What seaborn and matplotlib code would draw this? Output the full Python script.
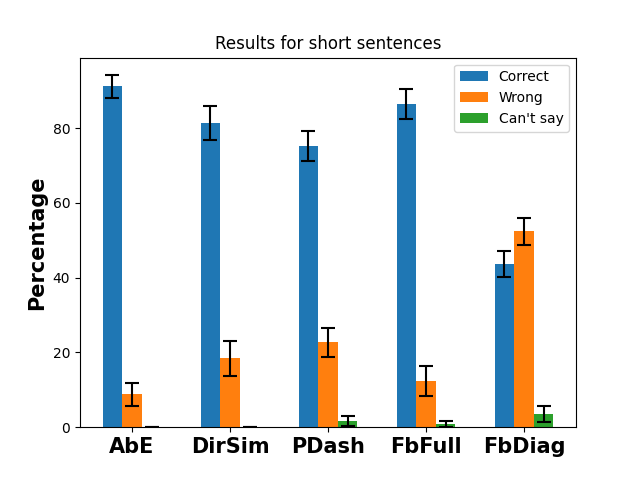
import numpy as np
import pandas as pd
import matplotlib
matplotlib.use("Agg")
import matplotlib.pyplot as plt
import seaborn as sns

methods = ['AbE', 'DirSim', 'PDash', 'FbFull', 'FbDiag']
outcomes = ['Correct', 'Wrong', "Can't say"]
correct = [91.2, 81.4, 75.3, 86.5, 43.7]
wrong = [8.8, 18.4, 22.7, 12.3, 52.4]
cant_say = [0.0, 0.0, 1.6, 0.8, 3.5]
correct_err = [3.0, 4.6, 4.0, 4.0, 3.4]
wrong_err = [3.0, 4.7, 3.8, 4.0, 3.7]
cant_say_err = [0.0, 0.0, 1.3, 0.8, 2.2]

values = {'Correct': correct, 'Wrong': wrong, "Can't say": cant_say}
errors = {'Correct': correct_err, 'Wrong': wrong_err, "Can't say": cant_say_err}

rows = []
for o in outcomes:
    for m, v, e in zip(methods, values[o], errors[o]):
        rows.append({'Method': m, 'Outcome': o, 'Percentage': v, 'err': e})
df = pd.DataFrame(rows)

fig, ax = plt.subplots(figsize=(6.4, 4.8), dpi=100)
sns.barplot(data=df, x='Method', y='Percentage', hue='Outcome', order=methods,
            hue_order=outcomes, palette=['#1f77b4', '#ff7f0e', '#2ca02c'],
            width=0.6, saturation=1, errorbar=None, ax=ax)

# error bars on top of each bar, in the same order seaborn draws the bars
bars = [p for p in ax.patches if p.get_width() > 0][:len(df)]
for bar, (_, row) in zip(bars, df.iterrows()):
    ax.errorbar(bar.get_x() + bar.get_width() / 2, bar.get_height(), yerr=row['err'],
                fmt='none', ecolor='black', capsize=5, elinewidth=1.5, capthick=1.5)

ax.set_xlim(-0.53, 4.53)
ax.set_title('Results for short sentences')
ax.set_xlabel('')
ax.set_ylabel('Percentage', fontsize=15, fontweight='bold')
for lbl in ax.get_xticklabels():
    lbl.set_fontsize(15)
    lbl.set_fontweight('bold')
handles, labels = ax.get_legend_handles_labels()
ax.legend(handles, labels, loc='upper right')

fig.subplots_adjust(left=0.125, right=0.9, bottom=0.11, top=0.88)
fig.savefig('out.png', dpi=100)
